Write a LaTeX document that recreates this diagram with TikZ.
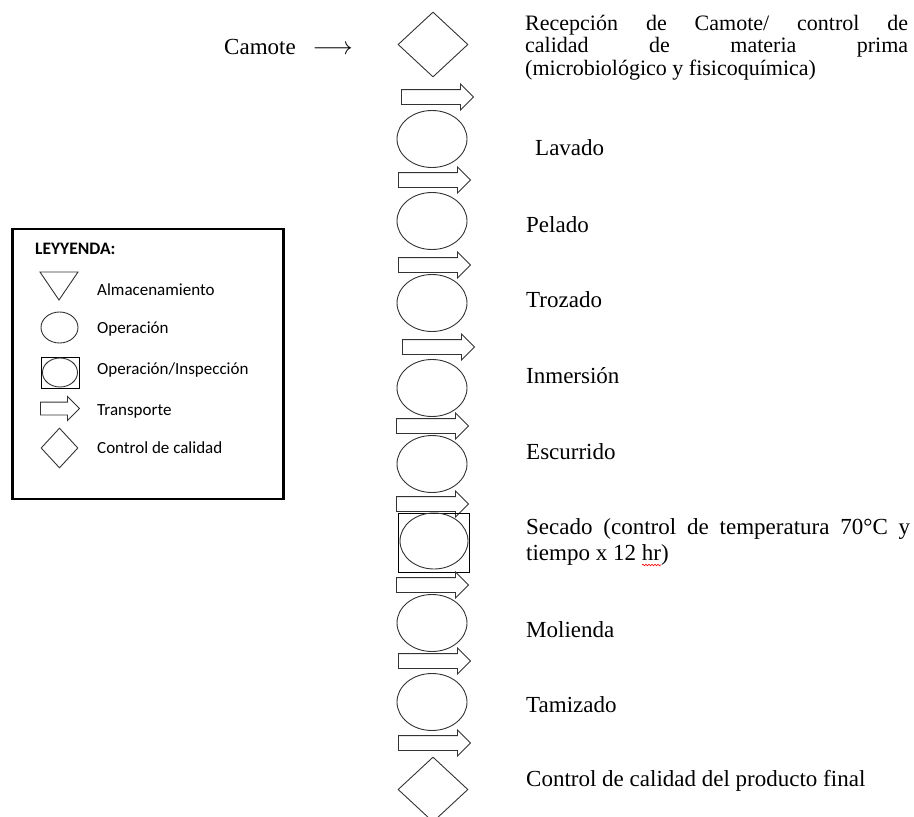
\documentclass[tikz,border=0pt]{standalone}
\usepackage{fontspec}
\setmainfont{Liberation Serif}
\newfontfamily\leyendafont{Carlito}
\usetikzlibrary{shapes.geometric,shapes.arrows,decorations.pathmorphing}

\begin{document}
\begin{tikzpicture}[x=1pt, y=-1pt,
  sym/.style={draw=black!80, line width=0.9pt, inner sep=0pt},
  operacion/.style={sym, ellipse, minimum width=70pt, minimum height=57pt},
  control/.style={sym, diamond, minimum width=70pt, minimum height=65pt},
  transporte/.style={sym, single arrow, anchor=tail, minimum height=72pt,
    text height=0pt, text depth=0pt, inner ysep=7pt, single arrow head extend=5.5pt},
  paso/.style={anchor=base west, inner sep=0pt, font=\fontsize{23}{25}\selectfont},
  leyenda/.style={anchor=base west, inner sep=0pt, font=\leyendafont\fontsize{17}{19}\selectfont}]
  \useasboundingbox (0,0) rectangle (914,817);
  \clip (0,0) rectangle (914,817);

  % legend
  \node[draw, line width=2.5pt, minimum width=271pt, minimum height=270pt,
    anchor=north west, inner sep=0pt] (caja) at (11,227.5) {};
  \node[leyenda, font=\leyendafont\bfseries\fontsize{17.5}{19}\selectfont] (titulo) at (35,254) {LEYYENDA:};
  \draw[sym] (40,272) -- (78,272) -- (59,300) -- cycle;
  \node[leyenda] (l-alm) at (97,295) {Almacenamiento};
  \node[sym, ellipse, minimum width=37pt, minimum height=31pt] (s-op) at (59.5,327.5) {};
  \node[leyenda] (l-op) at (97,333) {Operación};
  \node[sym, draw=black, minimum width=38pt, minimum height=31pt] (s-insp) at (60,372.5) {};
  \node[sym, ellipse, minimum width=35pt, minimum height=29pt] (s-insp-e) at (60,372.5) {};
  \node[leyenda] (l-insp) at (97,374) {Operación/Inspección};
  \node[sym, single arrow, anchor=tail, minimum height=39pt, text height=0pt, text depth=0pt,
    inner ysep=6pt, single arrow head extend=5.5pt] (s-tr) at (40,408.5) {};
  \node[leyenda] (l-tr) at (97,415) {Transporte};
  \node[sym, diamond, minimum width=37pt, minimum height=40pt] (s-cc) at (59.5,448) {};
  \node[leyenda] (l-cc) at (97,453) {Control de calidad};

  % process column
  \node[paso] (camote) at (224,54) {Camote\hspace{17pt}$\longrightarrow$};
  \node[control] (cc1) at (433,44.5) {};
  \node[transporte] (t1) at (401,97) {};
  \node[operacion] (lav) at (432,139) {};
  \node[transporte] (t2) at (398,180) {};
  \node[operacion] (pel) at (432,221) {};
  \node[transporte] (t3) at (398,265) {};
  \node[operacion] (tro) at (432,303) {};
  \node[transporte] (t4) at (402,347) {};
  \node[operacion] (inm) at (432,388) {};
  \node[transporte] (t5) at (396,426) {};
  \node[operacion] (esc) at (432,464) {};
  \node[transporte] (t6) at (396,504) {};
  \node[sym, draw=black, minimum width=71pt, minimum height=59pt] (sec-r) at (433.5,542.5) {};
  \node[operacion, minimum width=68pt, minimum height=56pt] (sec) at (434,541) {};
  \node[transporte] (t7) at (396,585) {};
  \node[operacion] (mol) at (432,623) {};
  \node[transporte] (t8) at (398,661) {};
  \node[operacion] (tam) at (432,702) {};
  \node[transporte] (t9) at (398,743) {};
  \node[control] (cc2) at (433,789.5) {};

  % labels
  \node[paso, font=\fontsize{22}{24}\selectfont] (rec1) at (525,30) {\makebox[383pt][s]{Recepción de Camote/ control de}};
  \node[paso, font=\fontsize{22}{24}\selectfont] (rec2) at (525,52.5) {\makebox[383pt][s]{calidad de materia prima}};
  \node[paso, font=\fontsize{22}{24}\selectfont] (rec3) at (525,75) {(microbiológico y fisicoquímica)};
  \node[paso] (lavado) at (535,155) {Lavado};
  \node[paso] (pelado) at (526,232) {Pelado};
  \node[paso] (trozado) at (526,307) {Trozado};
  \node[paso] (inmersion) at (526,383) {Inmersión};
  \node[paso] (escurrido) at (526,459) {Escurrido};
  \node[paso] (sec1) at (526,534) {\makebox[384pt][s]{Secado (control de temperatura 70°C y}};
  \node[paso] (sec2) at (526,560) {tiempo x 12 hr)};
  \draw[red, line width=0.6pt, decorate,
    decoration={snake, segment length=3pt, amplitude=0.8pt}] (642,565) -- (661,565);
  \node[paso] (molienda) at (526,637) {Molienda};
  \node[paso] (tamizado) at (526,712) {Tamizado};
  \node[paso] (final) at (526,786) {Control de calidad del producto final};
\end{tikzpicture}
\end{document}
